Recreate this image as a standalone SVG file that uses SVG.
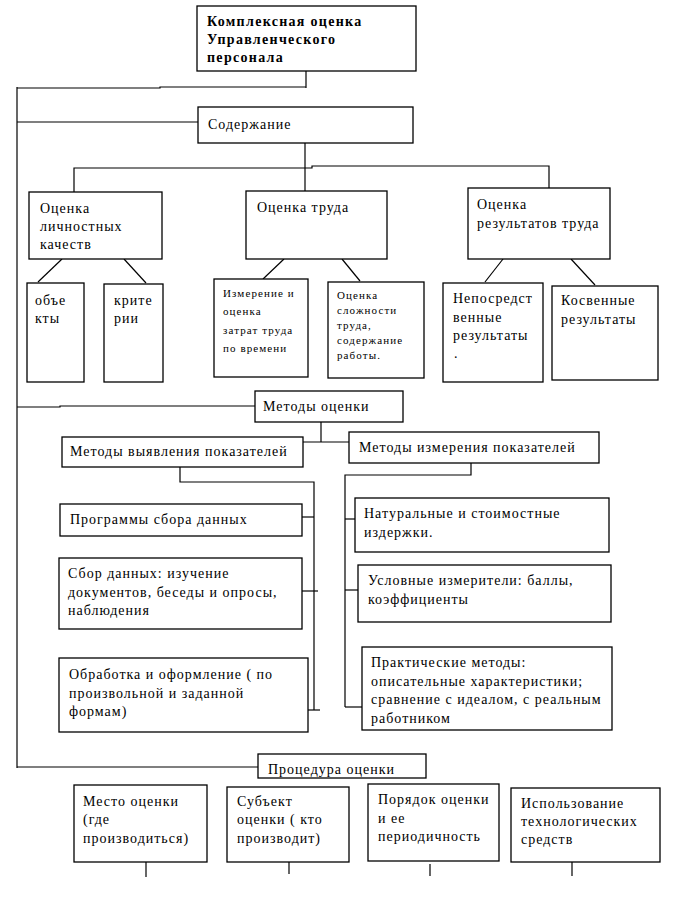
<svg xmlns="http://www.w3.org/2000/svg" width="676" height="908" viewBox="0 0 676 908">
<style>
.b{fill:#fff;stroke:#000;stroke-width:1.3}
.c line,.c polyline{stroke:#000;stroke-width:1.2;fill:none}
text{font-family:'Liberation Serif','DejaVu Serif','Times New Roman',serif;fill:#000}
.t{font-size:14px;letter-spacing:1px}
.s{font-size:11px;letter-spacing:1.1px}
.h{font-size:14px;font-weight:bold;letter-spacing:1.3px}
</style>
<rect width="676" height="908" fill="#fff"/>
<g class="c" id="connectors">
<line x1="306" y1="71" x2="306" y2="88"/>
<polyline points="17,88 160,88 160,87 306,87"/>
<line x1="17" y1="87" x2="17" y2="768"/>
<line x1="17" y1="122" x2="198" y2="122"/>
<line x1="305" y1="143" x2="305" y2="191"/>
<polyline points="74,192 74,168 312,168 312,166 549,166 549,188"/>
<line x1="62" y1="259" x2="38" y2="282"/>
<line x1="124" y1="259" x2="146" y2="283"/>
<line x1="284" y1="259" x2="263" y2="279"/>
<line x1="342" y1="259" x2="360" y2="281"/>
<line x1="503" y1="259" x2="485" y2="282"/>
<line x1="571" y1="259" x2="595" y2="285"/>
<polyline points="17,407 60,407 60,406 255,406"/>
<line x1="321" y1="422" x2="321" y2="442"/>
<line x1="303" y1="442" x2="349" y2="442"/>
<polyline points="180,467 180,482 314,482 314,710"/>
<line x1="302" y1="517" x2="314" y2="517"/>
<line x1="302" y1="591" x2="318" y2="591"/>
<line x1="308" y1="710" x2="320" y2="710"/>
<polyline points="471,463 471,475 345,475 345,707"/>
<line x1="345" y1="519" x2="355" y2="519"/>
<line x1="345" y1="590" x2="358" y2="590"/>
<line x1="345" y1="707" x2="362" y2="707"/>
<line x1="17" y1="767" x2="258" y2="767"/>
<line x1="146" y1="860" x2="146" y2="877"/>
<line x1="289" y1="860" x2="289" y2="874"/>
<line x1="430" y1="864" x2="430" y2="876"/>
<line x1="572" y1="862" x2="572" y2="876"/>
</g>
<g id="n-top"><rect class="b" x="197" y="6" width="219" height="65"/>
<text class="h" x="207" y="26">Комплексная оценка</text>
<text class="h" x="207" y="44">Управленческого</text>
<text class="h" x="207" y="62">персонала</text></g>
<g id="n-content"><rect class="b" x="198" y="107" width="215" height="36"/>
<text class="t" x="208" y="129">Содержание</text></g>
<g id="n-personal"><rect class="b" x="29" y="192" width="133" height="67"/>
<text class="t" x="40" y="213">Оценка</text>
<text class="t" x="40" y="231">личностных</text>
<text class="t" x="40" y="249">качеств</text></g>
<g id="n-labour"><rect class="b" x="246" y="191" width="141" height="68"/>
<text class="t" x="257" y="212">Оценка труда</text></g>
<g id="n-results"><rect class="b" x="468" y="188" width="142" height="71"/>
<text class="t" x="477" y="209">Оценка</text>
<text class="t" x="477" y="228">результатов труда</text></g>
<g id="n-objects"><rect class="b" x="27" y="283" width="57" height="99"/>
<text class="t" x="35" y="305">объе</text>
<text class="t" x="35" y="323">кты</text></g>
<g id="n-criteria"><rect class="b" x="104" y="284" width="59" height="98"/>
<text class="t" x="114" y="305">крите</text>
<text class="t" x="114" y="323">рии</text></g>
<g id="n-measure"><rect class="b" x="214" y="279" width="94" height="98"/>
<text class="s" x="223" y="297">Измерение и</text>
<text class="s" x="223" y="315">оценка</text>
<text class="s" x="223" y="334">затрат труда</text>
<text class="s" x="223" y="352">по времени</text></g>
<g id="n-complexity"><rect class="b" x="328" y="282" width="96" height="96"/>
<text class="s" x="337" y="299">Оценка</text>
<text class="s" x="337" y="314">сложности</text>
<text class="s" x="337" y="329">труда,</text>
<text class="s" x="337" y="344">содержание</text>
<text class="s" x="337" y="359">работы.</text></g>
<g id="n-direct"><rect class="b" x="443" y="283" width="100" height="99"/>
<text class="t" x="453" y="303">Непосредст</text>
<text class="t" x="453" y="322">венные</text>
<text class="t" x="453" y="340">результаты</text>
<text class="t" x="454" y="358">.</text></g>
<g id="n-indirect"><rect class="b" x="552" y="286" width="106" height="94"/>
<text class="t" x="561" y="305">Косвенные</text>
<text class="t" x="561" y="324">результаты</text></g>
<g id="n-methods"><rect class="b" x="255" y="391" width="148" height="31"/>
<text class="t" x="263" y="411">Методы оценки</text></g>
<g id="n-reveal"><rect class="b" x="62" y="437" width="241" height="30"/>
<text class="t" x="70" y="456">Методы выявления показателей</text></g>
<g id="n-measuring"><rect class="b" x="349" y="432" width="250" height="31"/>
<text class="t" x="359" y="452">Методы измерения показателей</text></g>
<g id="n-programs"><rect class="b" x="60" y="504" width="242" height="32"/>
<text class="t" x="70" y="524">Программы сбора данных</text></g>
<g id="n-collect"><rect class="b" x="59" y="558" width="243" height="71"/>
<text class="t" x="68" y="578">Сбор данных: изучение</text>
<text class="t" x="68" y="597">документов, беседы и опросы,</text>
<text class="t" x="68" y="615">наблюдения</text></g>
<g id="n-processing"><rect class="b" x="59" y="658" width="249" height="74"/>
<text class="t" x="69" y="679">Обработка и оформление ( по</text>
<text class="t" x="69" y="698">произвольной и заданной</text>
<text class="t" x="69" y="716">формам)</text></g>
<g id="n-natural"><rect class="b" x="355" y="498" width="254" height="54"/>
<text class="t" x="364" y="518">Натуральные и стоимостные</text>
<text class="t" x="364" y="537">издержки.</text></g>
<g id="n-conditional"><rect class="b" x="358" y="565" width="253" height="57"/>
<text class="t" x="368" y="585">Условные измерители: баллы,</text>
<text class="t" x="368" y="604">коэффициенты</text></g>
<g id="n-practical"><rect class="b" x="362" y="647" width="250" height="83"/>
<text class="t" x="371" y="667">Практические методы:</text>
<text class="t" x="371" y="686">описательные характеристики;</text>
<text class="t" x="371" y="704">сравнение с идеалом, с реальным</text>
<text class="t" x="371" y="723">работником</text></g>
<g id="n-procedure"><rect class="b" x="258" y="754" width="168" height="24"/>
<text class="t" x="268" y="774">Процедура оценки</text></g>
<g id="n-place"><rect class="b" x="74" y="785" width="133" height="77"/>
<text class="t" x="83" y="806">Место оценки</text>
<text class="t" x="83" y="824">(где</text>
<text class="t" x="83" y="843">производиться)</text></g>
<g id="n-subject"><rect class="b" x="227" y="787" width="122" height="75"/>
<text class="t" x="237" y="806">Субъект</text>
<text class="t" x="237" y="824">оценки ( кто</text>
<text class="t" x="237" y="843">производит)</text></g>
<g id="n-order"><rect class="b" x="368" y="784" width="131" height="77"/>
<text class="t" x="378" y="804">Порядок оценки</text>
<text class="t" x="378" y="823">и ее</text>
<text class="t" x="378" y="841">периодичность</text></g>
<g id="n-tech"><rect class="b" x="511" y="788" width="149" height="74"/>
<text class="t" x="521" y="808">Использование</text>
<text class="t" x="521" y="826">технологических</text>
<text class="t" x="521" y="844">средств</text></g>
</svg>
